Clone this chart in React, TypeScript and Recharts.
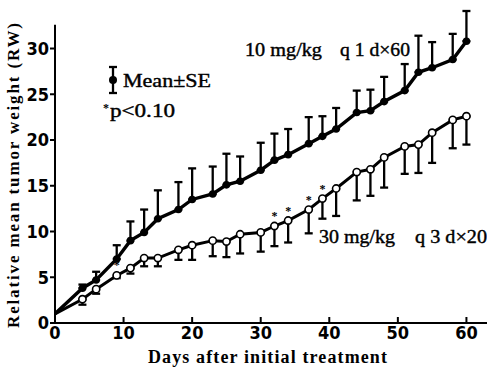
import React from 'react';
import { ComposedChart, Line, XAxis, YAxis, ErrorBar, LabelList, ReferenceLine } from 'recharts';

// days after initial treatment
const days = [0, 4, 6, 9, 11, 13, 15, 18, 20, 23, 25, 27, 30, 32, 34, 37, 39, 41, 44, 46, 48, 51, 53, 55, 58, 60];
// 10 mg/kg q1d x60 (filled)
const dailyMean = [1.0, 3.8, 4.7, 7.0, 9.0, 9.9, 11.4, 12.4, 13.5, 14.1, 15.1, 15.5, 16.7, 17.8, 18.4, 19.6, 20.4, 21.2, 23.0, 23.2, 24.2, 25.4, 27.4, 27.9, 28.8, 30.8];
const dailySE = [0, 0.4, 0.9, 1.5, 2.1, 2.5, 3.1, 3.0, 3.4, 3.0, 3.4, 2.7, 3.0, 2.9, 2.8, 2.9, 2.2, 2.3, 2.4, 2.3, 2.7, 2.9, 4.0, 2.8, 2.8, 3.3];
// 30 mg/kg q3d x20 (open)
const q3dMean = [1.0, 2.6, 3.7, 5.2, 6.0, 7.1, 7.1, 8.0, 8.5, 9.0, 8.9, 9.7, 9.9, 10.6, 11.2, 12.4, 13.6, 14.7, 16.5, 16.8, 18.1, 19.3, 19.5, 20.8, 22.2, 22.6];
const q3dSE = [0, 0.6, 0.5, 0.3, 0.6, 0.9, 0.9, 1.1, 1.6, 1.7, 1.7, 2.1, 2.1, 2.2, 2.4, 2.6, 2.2, 3.0, 3.1, 2.9, 3.3, 3.0, 3.1, 3.3, 3.1, 3.1];
// p < 0.10 marks
const starDays = [9, 32, 34, 37, 39];

const xTicks = [0, 10, 20, 30, 40, 50, 60];
const yTicks = [0, 5, 10, 15, 20, 25, 30];

const data = days.map((d, i) => ({
  day: d,
  daily: dailyMean[i],
  dailyErr: i === 0 ? null : [0, dailySE[i]],
  q3d: q3dMean[i],
  q3dErr: i === 0 ? null : [q3dSE[i], 0],
  star: starDays.includes(d),
}));

const tickFont = '"Liberation Sans Narrow", "DejaVu Sans Condensed", Arial, sans-serif';
const serif = '"Liberation Serif", "Times New Roman", serif';

const XTick = (props: any) => {
  const { x, y, payload } = props;
  return (
    <g>
      <line x1={x} y1={y} x2={x} y2={y - 6} stroke="#000" strokeWidth={2} />
      <text x={x} y={y + 16} textAnchor="middle" fontFamily={tickFont} fontWeight="bold" fontSize={18} fill="#000">
        {payload.value}
      </text>
    </g>
  );
};

const FilledDot = (props: any) => {
  const { cx, cy, index } = props;
  if (index === 0) return <g key={index} />;
  return <circle key={index} cx={cx} cy={cy} r={3.8} fill="#000" />;
};

const OpenDot = (props: any) => {
  const { cx, cy, index } = props;
  if (index === 0) return <g key={index} />;
  return <circle key={index} cx={cx} cy={cy} r={3.6} fill="#fff" stroke="#000" strokeWidth={1.6} />;
};

const StarLabel = (props: any) => {
  const { x, y, index } = props;
  if (!data[index] || !data[index].star) return null;
  return (
    <text x={x} y={y - 6} textAnchor="middle" fontFamily={serif} fontWeight="bold" fontSize={12} fill="#000">
      *
    </text>
  );
};

const note = { fontFamily: serif, fontSize: 18, fill: '#000', stroke: '#000', strokeWidth: 0.4, lengthAdjust: 'spacingAndGlyphs' as const };

export default function App() {
  return (
    <div style={{ position: 'absolute', left: 0, top: 0, width: 487, height: 371, background: '#fff' }}>
      <ComposedChart width={487} height={371} data={data} margin={{ top: 11, right: 0, bottom: 0, left: 0 }}>
        <XAxis
          dataKey="day"
          type="number"
          domain={[0, 63]}
          ticks={xTicks}
          tick={<XTick />}
          tickSize={0}
          tickMargin={0}
          tickLine={false}
          height={48}
          axisLine={{ stroke: '#000', strokeWidth: 2 }}
        />
        <YAxis
          type="number"
          domain={[0, 34]}
          ticks={yTicks}
          width={55}
          tickSize={5}
          tickMargin={1}
          axisLine={false}
          tickLine={{ stroke: '#000', strokeWidth: 2 }}
          tick={{ fill: '#000', fontSize: 18, fontWeight: 'bold', fontFamily: tickFont }}
        />
        <ReferenceLine segment={[{ x: 0, y: 0 }, { x: 0, y: 32.6 }]} stroke="#000" strokeWidth={2} ifOverflow="visible" />
        <Line
          dataKey="daily"
          type="linear"
          stroke="#000"
          strokeWidth={3.4}
          dot={<FilledDot />}
          isAnimationActive={false}
        >
          <ErrorBar dataKey="dailyErr" direction="y" width={4} stroke="#000" strokeWidth={2.3} />
        </Line>
        <Line
          dataKey="q3d"
          type="linear"
          stroke="#000"
          strokeWidth={3}
          dot={<OpenDot />}
          isAnimationActive={false}
        >
          <ErrorBar dataKey="q3dErr" direction="y" width={4} stroke="#000" strokeWidth={2.3} />
          <LabelList dataKey="q3d" content={<StarLabel />} />
        </Line>
      </ComposedChart>
      <svg width={487} height={371} style={{ position: 'absolute', left: 0, top: 0, pointerEvents: 'none' }}>
        <text
          transform="translate(19,175.5) rotate(-90)"
          textAnchor="middle"
          fontFamily={serif}
          fontWeight="bold"
          fontSize={17}
          textLength={305}
          lengthAdjust="spacing"
          fill="#000"
        >
          Relative mean tumor weight (RW)
        </text>
        <text x={148} y={363} fontFamily={serif} fontWeight="bold" fontSize={18} textLength={239} lengthAdjust="spacing" fill="#000">
          Days after initial treatment
        </text>
        <text x={245} y={56} {...note} textLength={77}>10 mg/kg</text>
        <text x={340} y={56} {...note} textLength={70}>q 1 d×60</text>
        <text x={319} y={243} {...note} textLength={76}>30 mg/kg</text>
        <text x={415} y={243} {...note} textLength={72}>q 3 d×20</text>
        <line x1={113} y1={67} x2={113} y2={93} stroke="#000" strokeWidth={2.3} />
        <line x1={109} y1={67} x2={117} y2={67} stroke="#000" strokeWidth={2.3} />
        <line x1={109} y1={93} x2={117} y2={93} stroke="#000" strokeWidth={2.3} />
        <circle cx={113} cy={80} r={4} fill="#000" />
        <text x={123} y={87} {...note} fontSize={19} textLength={88}>Mean±SE</text>
        <text x={103} y={112} fontFamily={serif} fontWeight="bold" fontSize={12} fill="#000">*</text>
        <text x={110} y={117} {...note} textLength={65}>p&lt;0.10</text>
      </svg>
    </div>
  );
}
